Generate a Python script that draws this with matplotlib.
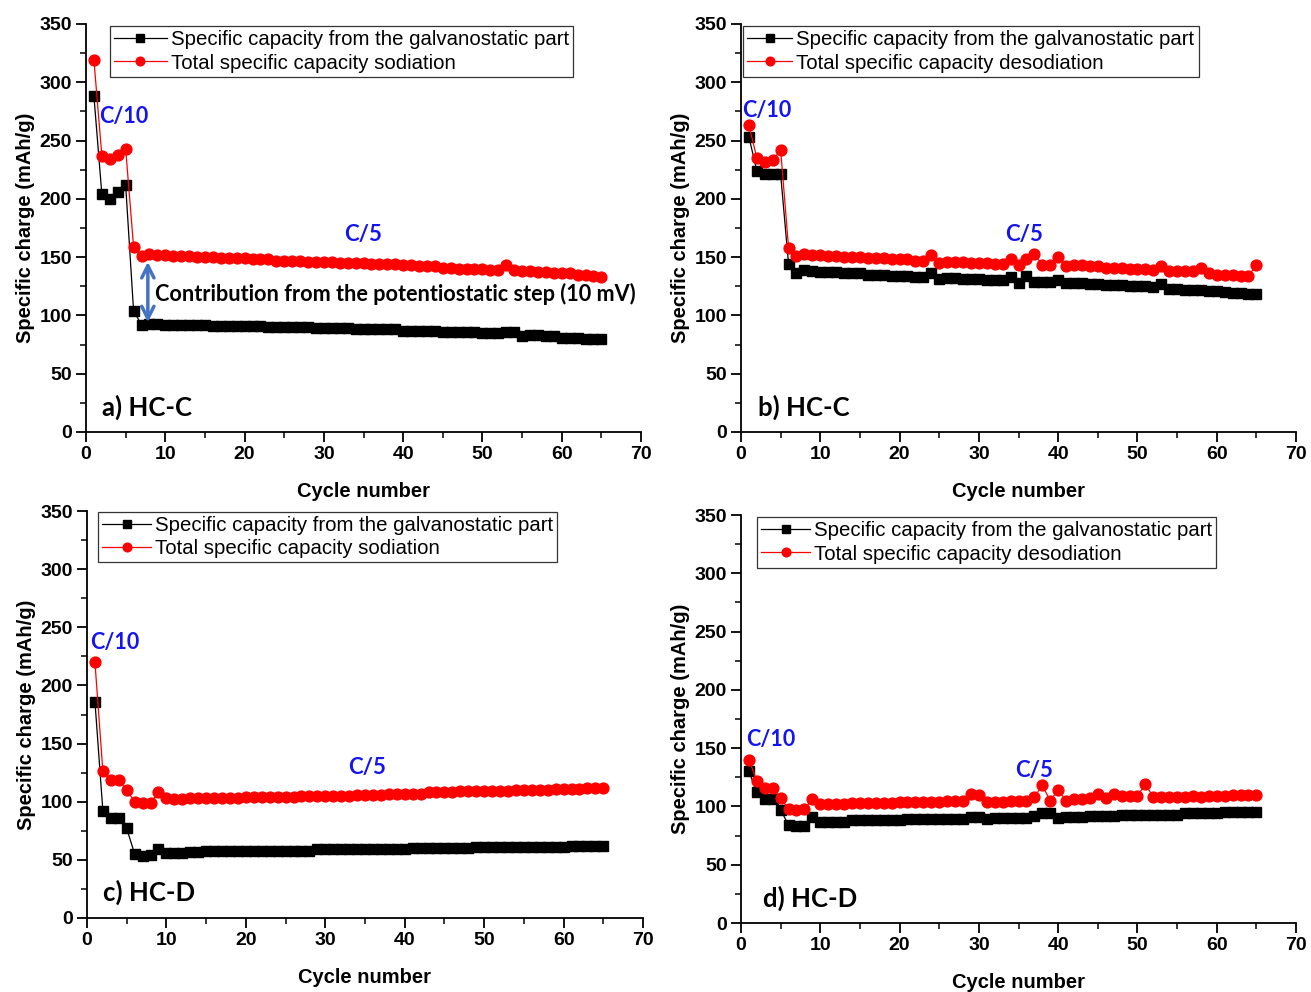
import matplotlib
matplotlib.use("Agg")
import matplotlib.pyplot as plt
import numpy as np

cycles = list(range(1, 66))

# Panel a: HC-C sodiation
a_galv = [288, 204, 200, 206, 212, 104, 92, 93, 93,
          92, 92, 92, 92, 92, 92, 91, 91, 91, 91, 91,
          91, 91, 90, 90, 90, 90, 90, 90, 89, 89,
          89, 89, 89, 88, 88, 88, 88, 88, 88, 87,
          87, 87, 87, 87, 86, 86, 86, 86, 86, 85,
          85, 85, 86, 86, 82, 83, 83, 82, 82, 81,
          81, 81, 80, 80, 80]
a_total = [319, 237, 234, 238, 243, 159, 151, 153, 152,
           152, 151, 151, 151, 150, 150, 150, 149, 149, 149, 149,
           148, 148, 148, 147, 147, 147, 147, 146, 146, 146,
           146, 145, 145, 145, 145, 144, 144, 144, 144, 143,
           143, 142, 142, 142, 141, 141, 140, 140, 140, 140,
           139, 139, 143, 139, 138, 138, 137, 137, 136, 136,
           136, 135, 135, 134, 133]

# Panel b: HC-C desodiation
b_galv = [253, 224, 221, 221, 221, 144, 136, 139, 138,
          137, 137, 137, 136, 136, 136, 135, 135, 135, 134, 134, 134, 133, 133,
          136, 131,
          132, 132, 131, 131, 131, 130, 130, 130,
          133, 128, 134, 129, 129, 129, 130, 128,
          128, 128, 127, 127, 126, 126, 126, 125, 125, 125, 124,
          127,
          123, 123, 122, 122, 122, 121, 121, 120, 119, 119, 118, 118]
b_total = [263, 235, 232, 233, 242, 158, 151, 153, 152,
           152, 151, 151, 150, 150, 150, 149, 149, 149, 148, 148, 148, 147, 147,
           152, 145,
           146, 146, 146, 145, 145, 145, 144, 144,
           148, 143, 148, 153, 143, 143, 150, 142,
           143, 143, 142, 142, 141, 141, 141, 140, 140, 140, 139,
           142,
           138, 138, 138, 138,
           141,
           136, 135, 135, 135, 134, 134,
           143]

# Panel c: HC-D sodiation
c_galv = [186, 92, 86, 86, 77, 55, 53, 54, 59,
          56, 56, 56, 57, 57, 58, 58, 58, 58, 58, 58,
          58, 58, 58, 58, 58, 58, 58, 58, 59, 59,
          59, 59, 59, 59, 59, 59, 59, 59, 59, 59,
          60, 60, 60, 60, 60, 60, 60, 60, 61, 61,
          61, 61, 61, 61, 61, 61, 61, 61, 61, 61,
          62, 62, 62, 62, 62]
c_total = [220, 126, 119, 119, 110, 100, 99, 99, 108,
           103, 102, 102, 103, 103, 103, 103, 103, 103, 103, 104,
           104, 104, 104, 104, 104, 104, 105, 105, 105, 105,
           105, 105, 105, 106, 106, 106, 106, 107, 107, 107,
           107, 107, 108, 108, 108, 108, 109, 109, 109, 109,
           109, 109, 109, 110, 110, 110, 110, 110, 111, 111,
           111, 111, 112, 112, 112]

# Panel d: HC-D desodiation
d_galv = [130, 112, 106, 106, 97, 84, 83, 83, 91,
          87, 87, 87, 87, 88, 88, 88, 88, 88, 88, 88,
          89, 89, 89, 89, 89, 89, 89, 89,
          91, 91, 89,
          90, 90, 90, 90, 90, 92,
          94, 94, 90,
          91, 91, 91, 92, 92, 92, 92, 93, 93, 93,
          93, 93, 93, 93, 93, 94, 94, 94, 94, 94,
          95, 95, 95, 95, 95]
d_total = [140, 122, 116, 116, 107, 98, 97, 98, 106,
           102, 102, 102, 102, 103, 103, 103, 103, 103, 103, 104,
           104, 104, 104, 104, 104, 105, 105, 105,
           111, 110, 104,
           104, 104, 105, 105, 105,
           108, 118, 105, 114, 105,
           106, 106, 107,
           111, 107, 111, 109, 109, 109,
           119,
           108, 108, 108, 108, 108, 109, 108, 109, 109, 109, 110, 110, 110, 110]

legend_galv = "Specific capacity from the galvanostatic part"
legend_sod = "Total specific capacity sodiation"
legend_desod = "Total specific capacity desodiation"

W, H = 1311, 992
fig = plt.figure(figsize=(W / 100, H / 100), dpi=100)

def px_axes(x0, x70, ytop, ybot):
    return fig.add_axes([x0 / W, 1 - ybot / H, (x70 - x0) / W, (ybot - ytop) / H])

panels = [
    dict(rect=(86, 641, 24, 432), galv=a_galv, tot=a_total, leg2=legend_sod,
         leg_anchor=(0.043, 0.995), label="a) HC-C", hl=2.6,
         c10=(1.7, 271), c5=(35.0, 169), lab=(2.0, 21)),
    dict(rect=(741, 1296, 24, 432), galv=b_galv, tot=b_total, leg2=legend_desod,
         leg_anchor=(0.004, 0.995), label="b) HC-C", hl=2.2,
         c10=(0.2, 276), c5=(35.7, 169), lab=(2.1, 21)),
    dict(rect=(87, 643, 511, 918), galv=c_galv, tot=c_total, leg2=legend_sod,
         leg_anchor=(0.02, 0.998), label="c) HC-D", hl=2.4,
         c10=(0.4, 237), c5=(35.3, 129), lab=(2.0, 22)),
    dict(rect=(741, 1296, 515, 923), galv=d_galv, tot=d_total, leg2=legend_desod,
         leg_anchor=(0.029, 0.995), label="d) HC-D", hl=2.4,
         c10=(0.6, 157), c5=(37.0, 131), lab=(2.8, 21)),
]

tick_font = dict(family="Liberation Sans", weight="bold", size=14.5)
calib = ["Lato", "DejaVu Sans"]
blue = "#1414F0"

for i, p in enumerate(panels):
    ax = px_axes(*p["rect"])
    ax.plot(cycles, p["galv"], color="black", lw=0.9, marker="s", ms=7,
            mfc="black", mec="black", label=legend_galv, zorder=3)
    ax.plot(cycles, p["tot"], color="red", lw=0.9, marker="o", ms=7.8,
            mfc="red", mec="red", label=p["leg2"], zorder=4)
    ax.set_xlim(0, 70)
    ax.set_ylim(0, 350)
    ax.set_xticks(np.arange(0, 71, 10))
    ax.set_xticks(np.arange(0, 71, 5), minor=True)
    ax.set_yticks(np.arange(0, 351, 50))
    ax.set_yticks(np.arange(0, 351, 25), minor=True)
    for s in ["top", "right"]:
        ax.spines[s].set_visible(False)
    for s in ["left", "bottom"]:
        ax.spines[s].set_linewidth(1.3)
    ax.tick_params(which="major", direction="out", length=7, width=1.3, pad=3)
    ax.tick_params(which="minor", direction="out", length=4, width=1.1)
    for t in ax.get_xticklabels() + ax.get_yticklabels():
        t.set_fontfamily("Liberation Sans")
        t.set_fontweight("bold")
        t.set_fontsize(14)
    ax.set_xlabel("Cycle number", fontdict=tick_font, labelpad=14)
    ax.set_ylabel("Specific charge (mAh/g)", fontdict=tick_font, labelpad=3)
    leg = ax.legend(loc="upper left", bbox_to_anchor=p["leg_anchor"],
                    frameon=True, fancybox=False, edgecolor="black",
                    prop=dict(family="Liberation Sans", size=14.7),
                    handlelength=p["hl"], handletextpad=0.2, borderpad=0.2,
                    labelspacing=0.22, borderaxespad=0, markerscale=0.8)
    leg.get_frame().set_linewidth(0.9)
    ax.text(p["c10"][0], p["c10"][1], "C/10", color=blue, fontsize=15.5,
            fontweight="bold", family=calib, ha="left", va="center")
    ax.text(p["c5"][0], p["c5"][1], "C/5", color=blue, fontsize=16,
            fontweight="bold", family=calib, ha="center", va="center")
    ax.text(p["lab"][0], p["lab"][1], p["label"], color="black", fontsize=18.5,
            fontweight="bold", family=calib, ha="left", va="center")
    if i == 0:
        ax.annotate("", xy=(7.8, 146), xytext=(7.8, 94),
                    arrowprops=dict(arrowstyle="<->", color="#4472C4", lw=2.5,
                                    mutation_scale=22, shrinkA=0, shrinkB=0))
        ax.text(8.7, 118, "Contribution from the potentiostatic step (10 mV)",
                color="black", fontsize=15.6, fontweight="bold", family=calib,
                ha="left", va="center")

fig.savefig("out.png", dpi=100)
